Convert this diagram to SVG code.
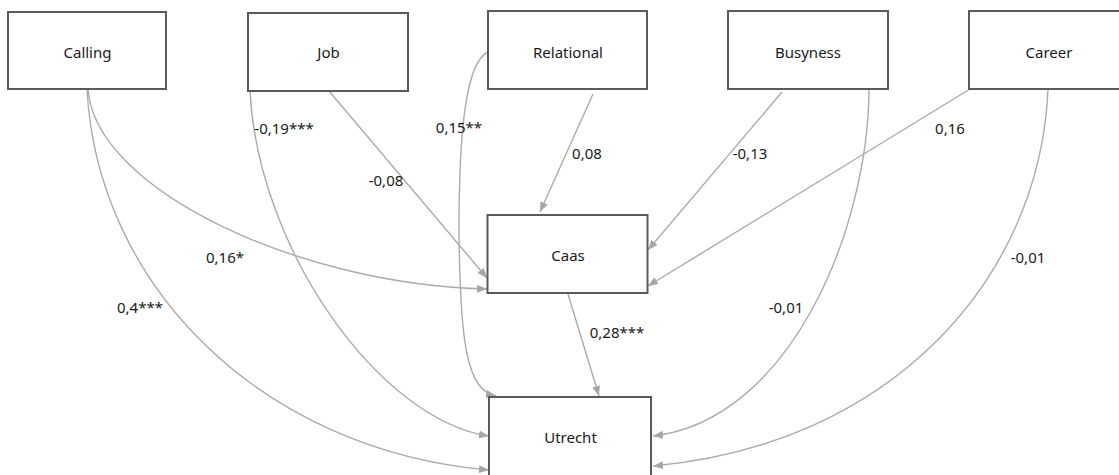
<svg xmlns="http://www.w3.org/2000/svg" width="1119" height="475" viewBox="0 0 1119 475">
<style>
.box{fill:#fff;stroke:#5a5a5a;stroke-width:2}
.lbl{font-family:"Noto Sans","Open Sans",sans-serif;font-size:15px;fill:#1a1a1a;text-anchor:middle}
.el{font-family:"Noto Sans","Open Sans",sans-serif;font-size:15px;fill:#1a1a1a;text-anchor:middle}
.c{fill:none;stroke:#ababab;stroke-width:1.4;marker-end:url(#ah)}
</style>
<defs>
<marker id="ah" markerUnits="userSpaceOnUse" markerWidth="11" markerHeight="9" refX="10" refY="4" orient="auto">
<path d="M0,0 L10,4 L0,8 z" fill="#a6a6a6"/>
</marker>
</defs>
<rect width="1119" height="475" fill="#fff"/>
<g id="connectors">
<path class="c" d="M88 89 C95 190, 300 285, 487 289"/>
<path class="c" d="M87 89 C97 285, 260 450, 489 470"/>
<path class="c" d="M250 91 C258 250, 380 420, 489 436"/>
<path class="c" d="M329 91 L487 278"/>
<path class="c" d="M488 52 C466 62, 459 130, 459 230 C460 340, 466 390, 496 396"/>
<path class="c" d="M593 94 L540 212"/>
<path class="c" d="M782 92 L648 250"/>
<path class="c" d="M869 90 C868 230, 790 420, 653 436"/>
<path class="c" d="M970 89 L648 286"/>
<path class="c" d="M1048 89 C1040 280, 890 445, 653 466"/>
<path class="c" d="M568 294 L599 396"/>
<text class="el" x="284" y="134">-0,19***</text>
<text class="el" x="386" y="186">-0,08</text>
<text class="el" x="459" y="133">0,15**</text>
<text class="el" x="587" y="159">0,08</text>
<text class="el" x="750" y="159">-0,13</text>
<text class="el" x="950" y="134">0,16</text>
<text class="el" x="225" y="263">0,16*</text>
<text class="el" x="140" y="313">0,4***</text>
<text class="el" x="617" y="338">0,28***</text>
<text class="el" x="786" y="313">-0,01</text>
<text class="el" x="1028" y="263">-0,01</text>
</g>
<g id="calling"><rect class="box" x="8" y="12" width="158" height="77"/><text class="lbl" x="87.5" y="58">Calling</text></g>
<g id="job"><rect class="box" x="248" y="13" width="160" height="78"/><text class="lbl" x="328.5" y="58">Job</text></g>
<g id="relational"><rect class="box" x="488" y="11" width="159" height="78"/><text class="lbl" x="568" y="57.5">Relational</text></g>
<g id="busyness"><rect class="box" x="728" y="11" width="160" height="78"/><text class="lbl" x="808" y="57.5">Busyness</text></g>
<g id="career"><rect class="box" x="969" y="11" width="160" height="78"/><text class="lbl" x="1049" y="57.5">Career</text></g>
<g id="caas"><rect class="box" x="487.5" y="215" width="160" height="78"/><text class="lbl" x="568" y="261">Caas</text></g>
<g id="utrecht"><rect class="box" x="489" y="397" width="162" height="82"/><text class="lbl" x="570.5" y="443">Utrecht</text></g>
</svg>
